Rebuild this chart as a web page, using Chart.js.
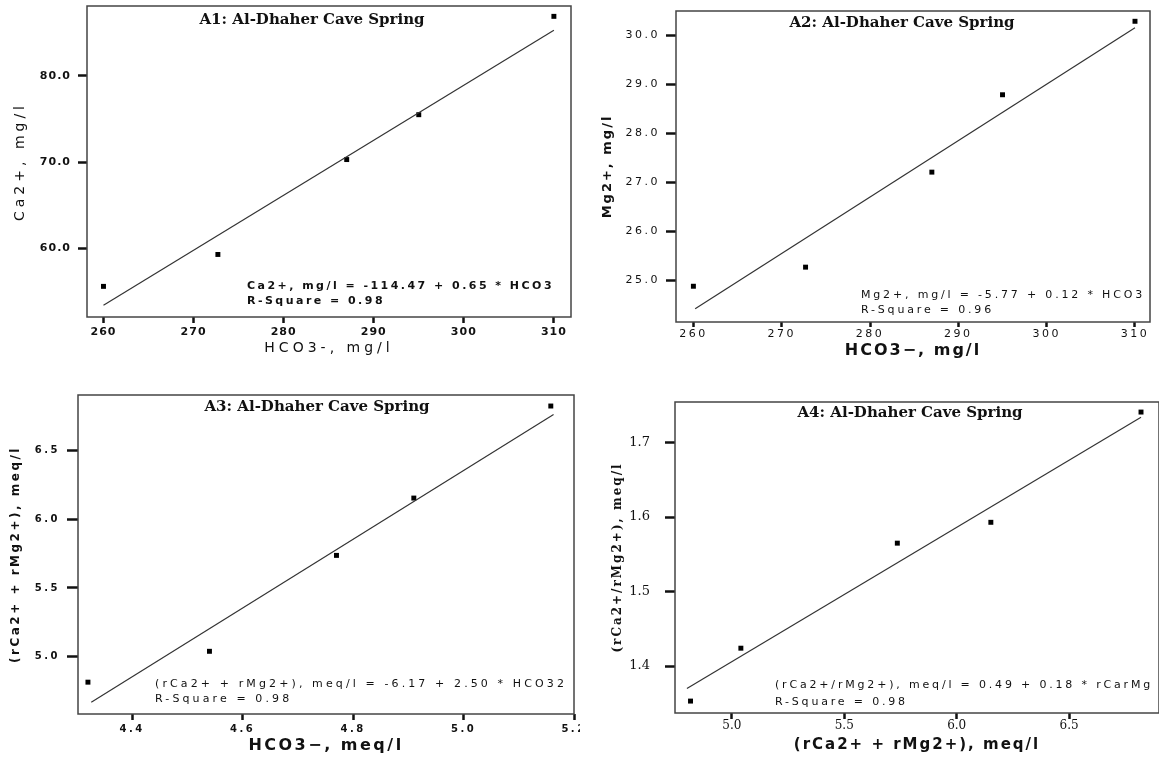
<!DOCTYPE html>
<html>
<head>
<meta charset="utf-8">
<script src="https://cdn.jsdelivr.net/npm/chart.js@4.4.1/dist/chart.umd.min.js"></script>
<style>
  body { margin: 0; background: #fff; width: 1159px; height: 759px; position: relative; overflow: hidden; }
  canvas { position: absolute; }
</style>
</head>
<body>
<canvas id="a1" width="580" height="360" style="left:0;top:0"></canvas>
<canvas id="a2" width="579" height="360" style="left:580px;top:0"></canvas>
<canvas id="a3" width="580" height="379" style="left:0;top:380px"></canvas>
<canvas id="a4" width="579" height="379" style="left:580px;top:380px"></canvas>
<script>
// samples
const hco3Mg = [260, 272.7, 287, 295, 310];
const caMg = [55.6, 59.3, 70.3, 75.5, 86.9];
const mgMg = [24.88, 25.27, 27.21, 28.79, 30.29];
const hco3Meq = [4.32, 4.54, 4.77, 4.91, 5.158];
const sumMeq = [4.816, 5.04, 5.736, 6.152, 6.82];
const ratioMeq = [1.353, 1.424, 1.565, 1.593, 1.741];

// fitted lines, ends as drawn in the picture
const lineA1X = [260, 310], lineA1Y = [53.4, 85.3];
const lineA2X = [260.2, 310], lineA2Y = [24.42, 30.16];
const lineA3X = [4.326, 5.163], lineA3Y = [4.67, 6.758];
const lineA4X = [4.80, 6.82], lineA4Y = [1.37, 1.734];

// tick labels
const ticksHco3Mg = [260, 270, 280, 290, 300, 310];
const ticksCa = [60, 70, 80];
const ticksMg = [25, 26, 27, 28, 29, 30];
const ticksHco3Meq = [4.4, 4.6, 4.8, 5.0, 5.2];
const ticksSum = [5.0, 5.5, 6.0, 6.5];
const ticksRatio = [1.4, 1.5, 1.6, 1.7];

const SANS = '"DejaVu Sans", sans-serif';
const SERIF = '"DejaVu Serif", serif';

// frame, panel title, regression text, letter spacing
const notes = {
  id: 'notes',
  beforeUpdate(chart, args, o) { chart.ctx.letterSpacing = o.titleSpacing + 'px'; },
  beforeDraw(chart, args, o) { chart.ctx.letterSpacing = o.titleSpacing + 'px'; },
  beforeDatasetsDraw(chart, args, o) { chart.ctx.letterSpacing = o.tickSpacing + 'px'; },
  afterDraw(chart, args, o) {
    const { ctx, chartArea: a } = chart;
    ctx.save();
    ctx.letterSpacing = '0px';
    ctx.strokeStyle = '#444';
    ctx.lineWidth = 1.5;
    ctx.strokeRect(a.left, a.top, a.right - a.left, a.bottom - a.top);

    ctx.fillStyle = '#111';
    ctx.font = 'bold 15px ' + SERIF;
    ctx.textAlign = 'center';
    ctx.textBaseline = 'middle';
    ctx.fillText(o.heading, (a.left + a.right) / 2 + o.headShift, a.top + o.headDrop);

    ctx.font = o.eqFont;
    ctx.textAlign = 'left';
    const w = ctx.measureText(o.eq[0]).width;
    ctx.letterSpacing = ((o.eqWidth - w) / o.eq[0].length) + 'px';
    o.eq.forEach((t, i) => ctx.fillText(t, a.left + o.eqLeft, a.bottom - o.eqUp + i * o.eqGap));
    ctx.restore();
  }
};

function axis(a, horizontal) {
  return {
    type: 'linear',
    min: a.min,
    max: a.max,
    afterBuildTicks: s => { s.ticks = a.ticks.map(v => ({ value: v })); },
    afterFit: s => {
      if (horizontal) s.height = a.size; else s.width = a.size;
      s.paddingLeft = s.paddingRight = s.paddingTop = s.paddingBottom = 0;
    },
    grid: { drawOnChartArea: false, tickLength: a.tickLen, tickWidth: 2.5, tickColor: '#111' },
    border: { display: false },
    ticks: {
      z: 1, padding: a.tickPad, color: '#111', font: a.tickFont,
      maxRotation: 0, autoSkip: false, callback: v => v.toFixed(a.dec)
    },
    title: {
      display: true, text: a.title, color: '#111', font: a.titleFont,
      padding: { top: a.titlePad, bottom: a.titlePad }
    }
  };
}

function panel(id, p) {
  const pts = p.x.map((v, i) => ({ x: v, y: p.y[i] }));
  const fit = p.lineX.map((v, i) => ({ x: v, y: p.lineY[i] }));
  return new Chart(document.getElementById(id), {
    type: 'scatter',
    data: {
      datasets: [
        { data: fit, showLine: true, borderColor: '#333', borderWidth: 1.2, pointRadius: 0, clip: false },
        { data: pts, pointStyle: 'rect', pointRadius: 3.5, backgroundColor: '#000', borderWidth: 0, clip: false }
      ]
    },
    options: {
      responsive: false,
      animation: false,
      events: [],
      layout: { padding: p.pad, autoPadding: false },
      plugins: { legend: { display: false }, tooltip: { enabled: false }, notes: p.notes },
      scales: { x: axis(p.xs, true), y: axis(p.ys, false) }
    },
    plugins: [notes]
  });
}

panel('a1', {
  x: hco3Mg, y: caMg, lineX: lineA1X, lineY: lineA1Y,
  pad: { left: 0, right: 9, top: 6, bottom: 0 },
  xs: { min: 258.17, max: 311.9, ticks: ticksHco3Mg, dec: 0, size: 43, tickLen: 6, tickPad: 3,
        tickFont: { family: SANS, size: 11, weight: 'bold' },
        title: 'HCO3-, mg/l', titleFont: { family: SANS, size: 14 }, titlePad: 3 },
  ys: { min: 52.05, max: 88.1, ticks: ticksCa, dec: 1, size: 87, tickLen: 9, tickPad: 7,
        tickFont: { family: SANS, size: 11, weight: 'bold' },
        title: 'Ca2+, mg/l', titleFont: { family: SANS, size: 14 }, titlePad: 12 },
  notes: { heading: 'A1: Al-Dhaher Cave Spring', headShift: -17, headDrop: 14,
           eq: ['Ca2+, mg/l = -114.47 + 0.65 * HCO3', 'R-Square = 0.98'],
           eqFont: 'bold 11px ' + SANS, eqWidth: 307, eqLeft: 160, eqUp: 31, eqGap: 15,
           titleSpacing: 4, tickSpacing: 1 }
});

panel('a2', {
  x: hco3Mg, y: mgMg, lineX: lineA2X, lineY: lineA2Y,
  pad: { left: 0, right: 9, top: 11, bottom: 0 },
  xs: { min: 258.03, max: 311.7, ticks: ticksHco3Mg, dec: 0, size: 38, tickLen: 5, tickPad: 1,
        tickFont: { family: SANS, size: 11 },
        title: 'HCO3−, mg/l', titleFont: { family: SANS, size: 16, weight: 'bold' }, titlePad: 0 },
  ys: { min: 24.15, max: 30.5, ticks: ticksMg, dec: 1, size: 96, tickLen: 10, tickPad: 6,
        tickFont: { family: SANS, size: 11 },
        title: 'Mg2+, mg/l', titleFont: { family: SANS, size: 13, weight: 'bold' }, titlePad: 20 },
  notes: { heading: 'A2: Al-Dhaher Cave Spring', headShift: -11, headDrop: 12.5,
           eq: ['Mg2+, mg/l = -5.77 + 0.12 * HCO3', 'R-Square = 0.96'],
           eqFont: '11px ' + SANS, eqWidth: 284, eqLeft: 185, eqUp: 27, eqGap: 15,
           titleSpacing: 2, tickSpacing: 2.5 }
});

panel('a3', {
  x: hco3Meq, y: sumMeq, lineX: lineA3X, lineY: lineA3Y,
  pad: { left: 0, right: 6, top: 15, bottom: 0 },
  xs: { min: 4.302, max: 5.2, ticks: ticksHco3Meq, dec: 1, size: 45, tickLen: 6, tickPad: 3,
        tickFont: { family: SANS, size: 10, weight: 'bold' },
        title: 'HCO3−, meq/l', titleFont: { family: SANS, size: 16, weight: 'bold' }, titlePad: 4 },
  ys: { min: 4.585, max: 6.9, ticks: ticksSum, dec: 1, size: 78, tickLen: 11, tickPad: 7,
        tickFont: { family: SANS, size: 10, weight: 'bold' },
        title: '(rCa2+ + rMg2+), meq/l', titleFont: { family: SANS, size: 12, weight: 'bold' }, titlePad: 9 },
  notes: { heading: 'A3: Al-Dhaher Cave Spring', headShift: -9, headDrop: 11.7,
           eq: ['(rCa2+ + rMg2+), meq/l = -6.17 + 2.50 * HCO32', 'R-Square = 0.98'],
           eqFont: '11px ' + SANS, eqWidth: 412, eqLeft: 77, eqUp: 30, eqGap: 15,
           titleSpacing: 2.5, tickSpacing: 2.5 }
});

panel('a4', {
  x: sumMeq, y: ratioMeq, lineX: lineA4X, lineY: lineA4Y,
  pad: { left: 0, right: 0, top: 22, bottom: 0 },
  xs: { min: 4.747, max: 6.9, ticks: ticksSum, dec: 1, size: 46, tickLen: 6, tickPad: 0,
        tickFont: { family: SERIF, size: 12 },
        title: '(rCa2+ + rMg2+), meq/l', titleFont: { family: SANS, size: 15, weight: 'bold' }, titlePad: 5 },
  ys: { min: 1.337, max: 1.7545, ticks: ticksRatio, dec: 1, size: 95, tickLen: 10, tickPad: 15,
        tickFont: { family: SERIF, size: 13 },
        title: '(rCa2+/rMg2+), meq/l', titleFont: { family: SERIF, size: 12, weight: 'bold' }, titlePad: 31 },
  notes: { heading: 'A4: Al-Dhaher Cave Spring', headShift: -7, headDrop: 11.3,
           eq: ['(rCa2+/rMg2+), meq/l = 0.49 + 0.18 * rCarMg', 'R-Square = 0.98'],
           eqFont: '11px ' + SANS, eqWidth: 378, eqLeft: 100, eqUp: 28, eqGap: 17,
           titleSpacing: 2, tickSpacing: 0 }
});
</script>
</body>
</html>
